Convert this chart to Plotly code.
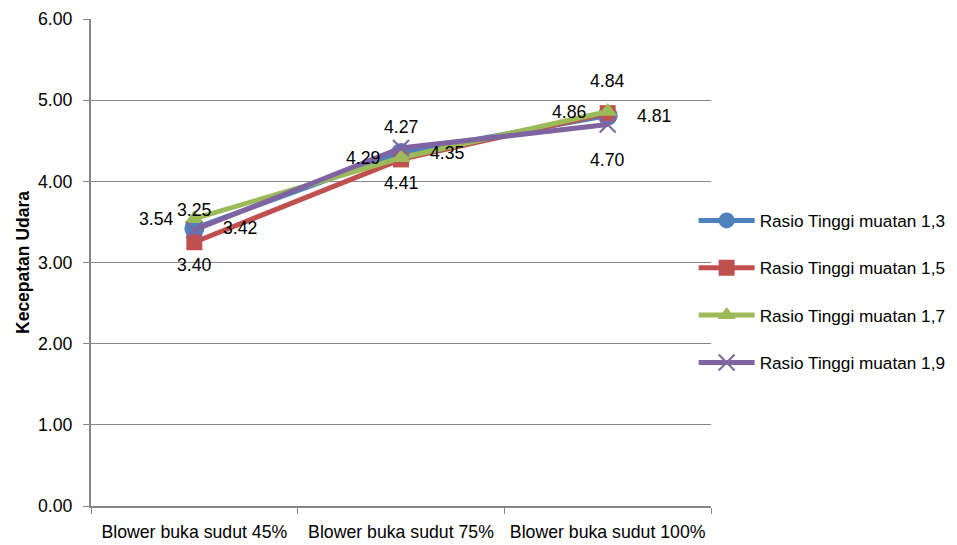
import plotly.graph_objects as go

categories = ["Blower buka sudut 45%", "Blower buka sudut 75%", "Blower buka sudut 100%"]
series_names = ["Rasio Tinggi muatan 1,3", "Rasio Tinggi muatan 1,5",
                "Rasio Tinggi muatan 1,7", "Rasio Tinggi muatan 1,9"]
values_13 = [3.42, 4.35, 4.81]
values_15 = [3.25, 4.27, 4.84]
values_17 = [3.54, 4.29, 4.86]
values_19 = [3.40, 4.41, 4.70]
y_ticks = [0, 1, 2, 3, 4, 5, 6]

FONT = "Liberation Sans, Arial, sans-serif"
FS = 17.7

colors = ["#4F81BD", "#C0504D", "#9BBB59", "#8064A2"]
symbols = ["circle", "square", "triangle-up", "x-thin"]
msizes = [20, 16, 17, 16]
all_vals = [values_13, values_15, values_17, values_19]
# label offsets (px): right, above, left, below
shifts = [(46, 0), (0, 32), (-38, 0), (0, -35)]

fig = go.Figure()
for i, (name, vals) in enumerate(zip(series_names, all_vals)):
    marker = dict(symbol=symbols[i], size=msizes[i], color=colors[i])
    if symbols[i] == "x-thin":
        marker["line"] = dict(color=colors[i], width=2)
    fig.add_trace(go.Scatter(
        x=categories, y=vals, name=name, mode="lines+markers",
        line=dict(color=colors[i], width=5),
        marker=marker, legendgroup=str(i),
    ))
    for c, v in zip(categories, vals):
        fig.add_annotation(x=c, y=v, text=f"{v:.2f}", showarrow=False,
                           xshift=shifts[i][0], yshift=shifts[i][1],
                           font=dict(family=FONT, size=FS, color="#000000"))

fig.update_layout(
    width=957, height=545,
    margin=dict(l=83, r=254, t=11, b=47, autoexpand=False),
    paper_bgcolor="white", plot_bgcolor="white",
    font=dict(family=FONT, size=FS, color="#000000"),
    showlegend=True,
    legend=dict(x=0.972, xanchor="left", y=0.44, yanchor="middle",
                font=dict(family=FONT, size=17.2, color="#000000"),
                itemwidth=56,
                tracegroupgap=22, bgcolor="rgba(0,0,0,0)"),
    xaxis=dict(type="category", range=[-0.5, 2.5], tickson="boundaries",
               ticks="outside", ticklen=6, tickcolor="#868686",
               showline=True, linecolor="#868686", linewidth=2,
               showgrid=False, ticklabelstandoff=9, tickangle=0,
               automargin=False,
               tickfont=dict(family=FONT, size=FS)),
    yaxis=dict(range=[0, 6], tickvals=y_ticks,
               ticktext=[f"{t:.2f}" for t in y_ticks],
               ticks="outside", ticklen=6, tickcolor="#868686",
               showline=True, linecolor="#868686", linewidth=2,
               showgrid=True, gridcolor="#868686", gridwidth=1,
               zeroline=False, ticklabelstandoff=7, automargin=False,
               tickfont=dict(family=FONT, size=FS),
               title=dict(text="<b>Kecepatan Udara</b>", standoff=4,
                          font=dict(family=FONT, size=17.5))),
)

fig.write_html("out.html")
